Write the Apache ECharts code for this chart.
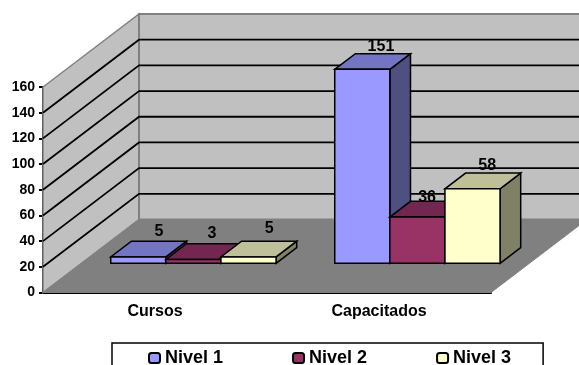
<!DOCTYPE html>
<html>
<head>
<meta charset="utf-8">
<title>Cursos y capacitados</title>
<script src="https://cdn.jsdelivr.net/npm/echarts@6/dist/echarts.min.js"></script>
<style>
    html, body { margin: 0; padding: 0; background: #fff; }
    #chart { width: 579px; height: 365px; }
</style>
</head>
<body>
<div id="chart"></div>
<script>
// datos
const categories = ['Cursos', 'Capacitados'];
const nivel1 = [5, 151];
const nivel2 = [3, 36];
const nivel3 = [5, 58];
const yTicks = [0, 20, 40, 60, 80, 100, 120, 140, 160];

// perspectiva 3D del grafico original
const DEPTH_X = 96;
const DEPTH_Y = 73;
const BAR_FLOOR = 0.4;    // donde se apoyan las barras, fraccion del fondo del piso
const BAR_DEPTH = 0.215;  // fondo de cada barra
const BAR_WIDTH = 0.246;  // ancho de barra respecto a la categoria
const FONT_FAMILY = '"Liberation Sans", Arial, sans-serif';

function poly(points, fill, stroke, lineWidth) {
    return {
        type: 'polygon',
        shape: { points: points },
        style: { fill: fill, stroke: stroke, lineWidth: lineWidth, lineJoin: 'miter' }
    };
}

// paredes, piso y lineas de division
function renderWalls(params, api) {
    const origin = api.coord([0, 0]);
    const x0 = origin[0] - api.size([1, 0])[0] / 2;
    const x1 = x0 + api.size([1, 0])[0] * categories.length;
    const y0 = origin[1];
    const yTop = api.coord([0, yTicks[yTicks.length - 1]])[1];
    const back = function (x, y) { return [x + DEPTH_X, y - DEPTH_Y]; };

    const children = [
        poly([[x0, y0], [x0, yTop], back(x0, yTop), back(x0, y0)], '#c0c0c0', '#808080', 1.5),
        poly([back(x0, y0), back(x0, yTop), back(x1, yTop), back(x1, y0)], '#c0c0c0', '#808080', 2),
        poly([[x0, y0], [x1, y0], back(x1, y0), back(x0, y0)], '#808080', '#808080', 1)
    ];
    yTicks.slice(1, -1).forEach(function (t) {
        const y = api.coord([0, t])[1];
        children.push({
            type: 'polyline',
            shape: { points: [[x0, y], back(x0, y), back(x1, y)] },
            style: { fill: 'none', stroke: '#000', lineWidth: 1.8 }
        });
    });
    return { type: 'group', children: children };
}

// barra 3D: frente, tapa, lado y etiqueta
function barRenderer(slot, colors, labelShift) {
    return function (params, api) {
        const cat = api.value(0);
        const val = api.value(1);
        const band = api.size([1, 0])[0];
        const w = band * BAR_WIDTH;
        const base = api.coord([cat, 0]);
        const top = api.coord([cat, val]);
        const sx = BAR_FLOOR * DEPTH_X;
        const sy = BAR_FLOOR * DEPTH_Y;
        const dx = BAR_DEPTH * DEPTH_X;
        const dy = BAR_DEPTH * DEPTH_Y;
        const l = base[0] + sx + (slot - 1.5) * w;
        const r = l + w;
        const b = base[1] - sy;
        const t = top[1] - sy;
        const shift = labelShift[params.dataIndex];
        return {
            type: 'group',
            children: [
                poly([[r, b], [r + dx, b - dy], [r + dx, t - dy], [r, t]], colors[2], '#000', 1.5),
                poly([[l, t], [r, t], [r + dx, t - dy], [l + dx, t - dy]], colors[1], '#000', 1.5),
                poly([[l, b], [r, b], [r, t], [l, t]], colors[0], '#000', 1.5),
                {
                    type: 'text',
                    style: {
                        x: (l + r) / 2 + dx + shift[0],
                        y: t - dy + shift[1],
                        text: String(val),
                        font: 'bold 16px ' + FONT_FAMILY,
                        fill: '#000',
                        align: 'center',
                        verticalAlign: 'middle'
                    }
                }
            ]
        };
    };
}

function barSeries(name, values, slot, colors, labelShift) {
    return {
        name: name,
        type: 'custom',
        coordinateSystem: 'cartesian2d',
        clip: false,
        itemStyle: { color: colors[0], borderColor: '#000', borderWidth: 1.5 },
        encode: { x: 0, y: 1 },
        data: values.map(function (v, i) { return [i, v]; }),
        renderItem: barRenderer(slot, colors, labelShift)
    };
}

function initChart() {
    const chart = echarts.init(document.getElementById('chart'));
    const option = {
        animation: false,
        grid: { left: 43, right: 88, top: 87, bottom: 72.5 },
        legend: {
            left: 112,
            top: 343,
            padding: [6, 32, 20, 36],
            itemGap: 69,
            itemWidth: 11,
            itemHeight: 10,
            borderColor: '#000',
            borderWidth: 1.5,
            backgroundColor: '#fff',
            textStyle: {
                color: '#000',
                fontFamily: FONT_FAMILY,
                fontWeight: 'bold',
                fontSize: 18
            },
            data: ['Nivel 1', 'Nivel 2', 'Nivel 3']
        },
        xAxis: {
            type: 'category',
            data: categories,
            axisLine: { lineStyle: { color: '#000', width: 2 } },
            axisTick: { length: 4, lineStyle: { color: '#000', width: 2 } },
            axisLabel: {
                color: '#000',
                margin: 11,
                fontFamily: FONT_FAMILY,
                fontWeight: 'bold',
                fontSize: 16
            }
        },
        yAxis: {
            type: 'value',
            min: 0,
            max: 160,
            interval: 20,
            splitLine: { show: false },
            axisLine: { show: true, lineStyle: { color: '#000', width: 2 } },
            axisTick: { show: true, length: 4, lineStyle: { color: '#000', width: 2 } },
            axisLabel: {
                color: '#000',
                margin: 8,
                fontFamily: FONT_FAMILY,
                fontWeight: 'bold',
                fontSize: 14
            }
        },
        series: [
            {
                type: 'custom',
                coordinateSystem: 'cartesian2d',
                clip: false,
                silent: true,
                z: 1,
                encode: { x: 0, y: 1 },
                data: [[0, 0]],
                renderItem: renderWalls
            },
            barSeries('Nivel 1', nivel1, 0, ['#9999ff', '#7474c4', '#4f4f80'], [[0, -10], [-2, -7.5]]),
            barSeries('Nivel 2', nivel2, 1, ['#993366', '#732650', '#4d1a33'], [[-2, -10], [-11, -4]]),
            barSeries('Nivel 3', nivel3, 2, ['#ffffcc', '#bfbf99', '#808066'], [[0, -12.5], [-6, -7.5]])
        ]
    };
    chart.setOption(option);
}

document.addEventListener('DOMContentLoaded', initChart);
</script>
</body>
</html>
